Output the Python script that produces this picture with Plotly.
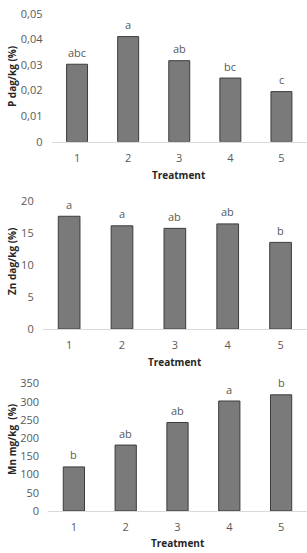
import plotly.graph_objects as go

treatments = [1, 2, 3, 4, 5]
p_values = [0.0303, 0.0411, 0.0317, 0.0249, 0.0196]
p_letters = ["abc", "a", "ab", "bc", "c"]
zn_values = [17.7, 16.2, 15.8, 16.5, 13.6]
zn_letters = ["a", "a", "ab", "ab", "b"]
mn_values = [121, 181, 243, 302, 319]
mn_letters = ["b", "ab", "ab", "a", "b"]
y_titles = ["P dag/kg (%)", "Zn dag/kg (%)", "Mn mg/kg  (%)"]
x_title = "Treatment"

W, H = 307, 553
panels = [
    dict(vals=p_values, letters=p_letters, ytitle=y_titles[0], rng=[0, 0.05], dtick=0.01,
         fmt=".2~f", top=6, bottom=137.5, left=51.5, xlab=171.7, ytc=71),
    dict(vals=zn_values, letters=zn_letters, ytitle=y_titles[1], rng=[0, 20], dtick=5,
         fmt="", top=199, bottom=330, left=42.7, xlab=364, ytc=261),
    dict(vals=mn_values, letters=mn_letters, ytitle=y_titles[2], rng=[0, 350], dtick=50,
         fmt="", top=386, bottom=517, left=48, xlab=550, ytc=444),
]

fig = go.Figure()
font_fam = "Open Sans, Liberation Sans, sans-serif"
tick_font = dict(family=font_fam, size=11, color="#595959")
annotations = []
for i, p in enumerate(panels, start=1):
    xa = "x" if i == 1 else f"x{i}"
    ya = "y" if i == 1 else f"y{i}"
    fig.add_trace(go.Bar(
        x=treatments, y=p["vals"], xaxis=xa, yaxis=ya, width=0.41,
        marker=dict(color="#7a7a7a", line=dict(color="#3c3c3c", width=1)),
        showlegend=False, hoverinfo="skip",
    ))
    for t, v, l in zip(treatments, p["vals"], p["letters"]):
        annotations.append(dict(x=t, y=v, xref=xa, yref=ya, text=l, showarrow=False,
                                xanchor="center", yanchor="middle",
                                yshift=12, font=tick_font))
    xdom = [p["left"] / W, 1.0]
    ydom = [1 - p["bottom"] / H, 1 - p["top"] / H]
    key = "" if i == 1 else str(i)
    fig.layout["xaxis" + key] = dict(
        domain=xdom, anchor=ya, range=[0.5, 5.5], dtick=1, showgrid=False, showline=True,
        linecolor="#d9d9d9", zeroline=False,
        linewidth=1, ticks="", tickfont=tick_font, ticklabelstandoff=6, fixedrange=True,
    )
    fig.layout["yaxis" + key] = dict(
        domain=ydom, anchor=xa, range=p["rng"], dtick=p["dtick"], tickformat=p["fmt"],
        showgrid=False, showline=False, zeroline=False, ticks="", tickfont=tick_font,
        ticklabelstandoff=8, fixedrange=True,
    )
    annotations.append(dict(x=(p["left"] / W + 1) / 2, y=1 - p["xlab"] / H, xref="paper",
                            yref="paper", text=f"<b>{x_title}</b>", showarrow=False,
                            xanchor="center", yanchor="middle",
                            font=dict(family=font_fam, size=10, color="#262626")))
    annotations.append(dict(x=12 / W, y=1 - p["ytc"] / H, xref="paper",
                            yref="paper", text=f"<b>{p['ytitle']}</b>", textangle=-90,
                            xanchor="center", yanchor="middle", showarrow=False,
                            font=dict(family=font_fam, size=10, color="#262626")))

fig.update_layout(
    width=W, height=H, margin=dict(l=0, r=0, t=0, b=0),
    plot_bgcolor="white", paper_bgcolor="white",
    separators=",.", annotations=annotations,
)
fig.write_html("out.html")
